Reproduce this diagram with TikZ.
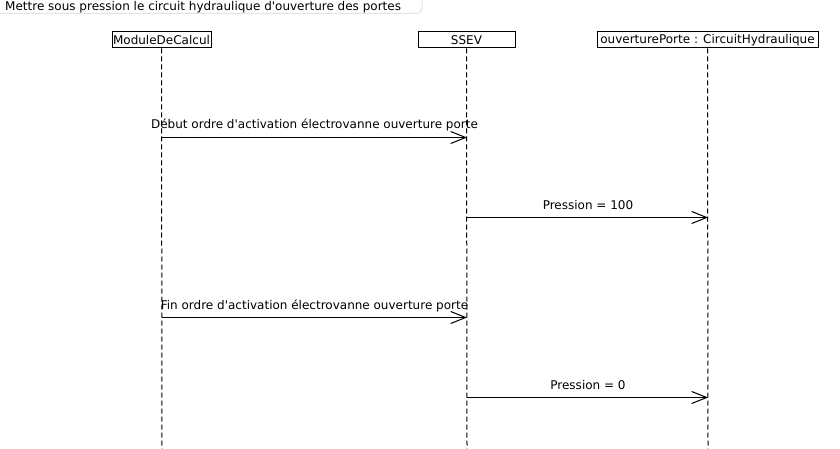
\documentclass[tikz,border=0pt]{standalone}
\usepackage{fontspec}
\newfontfamily\djv{DejaVu Sans}
\usetikzlibrary{arrows.meta}
\begin{document}
\begin{tikzpicture}[x=1pt,y=-1pt,
  every node/.style={font=\djv\fontsize{12}{14}\selectfont, text=black},
  lifebox/.style={draw, line width=1pt, minimum height=16pt, inner sep=0pt, anchor=center},
  lifeline/.style={line width=1pt, dash pattern=on 5pt off 3pt},
  msg/.style={line width=1pt, -{Straight Barb[length=15pt,width=12pt]}},
  msglabel/.style={anchor=base, inner sep=0pt}]
\useasboundingbox (0,0) rectangle (840,449);
% title frame
\draw[gray!22, line width=1pt] (0,13.5) -- (416,13.5) arc[start angle=90, end angle=0, radius=6] -- (422,0);
\node[anchor=base west, inner sep=0pt] (title) at (5,11) {Mettre sous pression le circuit hydraulique d'ouverture des portes};
% lifelines
\node[lifebox, minimum width=99pt] (mdc) at (161.5,40) {ModuleDeCalcul};
\node[lifebox, minimum width=97pt] (ssev) at (466.5,40) {SSEV};
\node[lifebox, minimum width=221pt] (op) at (707.5,40) {ouverturePorte : CircuitHydraulique};
\coordinate (mdcEnd) at (162,449);
\coordinate (ssevEnd) at (467,449);
\coordinate (opEnd) at (708,449);
\draw[lifeline] (mdc.south) -- (mdcEnd);
\draw[lifeline] (ssev.south) -- (ssevEnd);
\draw[lifeline] (op.south) -- (opEnd);
% messages
\coordinate (a1) at (162,137.5); \coordinate (b1) at (467,137.5);
\coordinate (a2) at (467,217.5); \coordinate (b2) at (708,217.5);
\coordinate (a3) at (162,317.5); \coordinate (b3) at (467,317.5);
\coordinate (a4) at (467,397.5); \coordinate (b4) at (708,397.5);
\draw[msg] (a1) -- (b1);
\draw[msg] (a2) -- (b2);
\draw[msg] (a3) -- (b3);
\draw[msg] (a4) -- (b4);
\node[msglabel] (l1) at (314.5,129) {Début ordre d'activation électrovanne ouverture porte};
\node[msglabel] (l2) at (588,209) {Pression = 100};
\node[msglabel] (l3) at (314.5,309) {Fin ordre d'activation électrovanne ouverture porte};
\node[msglabel] (l4) at (588,389) {Pression = 0};
\end{tikzpicture}
\end{document}
